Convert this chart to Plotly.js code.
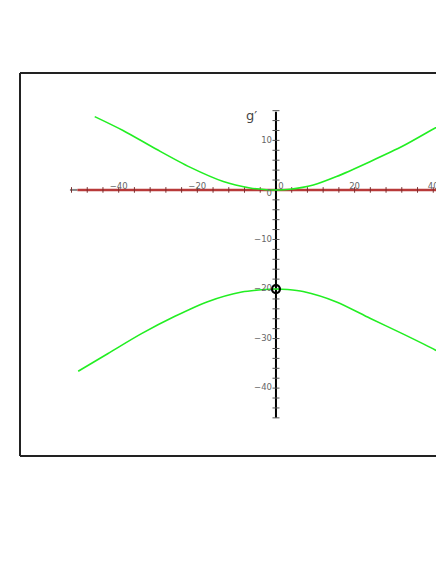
<!DOCTYPE html>
<html><head><meta charset="utf-8">
<script src="https://cdn.plot.ly/plotly-3.0.1.min.js"></script>
<style>html,body{margin:0;padding:0;background:#fff;}#chart{width:436px;height:564px;}</style>
</head><body><div id="chart"></div>
<script>
// Upper branch of g'
const upperX = [-46.1, -38.9, -30.4, -21.9, -13.4, -6.6, -2.5, 0, 3.6, 9.5, 15.4, 23.9, 32.4, 40.5, 42];
const upperY = [14.8, 12.0, 8.2, 4.6, 1.7, 0.4, 0.05, 0.0, 0.15, 1.0, 2.7, 5.7, 8.9, 12.5, 13.1];
// Lower branch of g'
const lowerX = [-50.3, -42.7, -34.2, -25.7, -17.2, -8.7, -3.0, 0, 3.0, 6.9, 15.4, 23.9, 32.4, 40.5, 42];
const lowerY = [-36.6, -33.0, -29.0, -25.5, -22.5, -20.6, -20.1, -20.0, -20.1, -20.5, -22.6, -25.9, -29.1, -32.3, -33.0];
// Marked point
const pointX = [0];
const pointY = [-20];
// Axis extents
const xAxisGrey = [-52.4, -50.5];
const xAxisRed = [-50.5, 42];
const yAxisExt = [15.8, -46];
// Ticks
const xTickVals = [-52,-48,-44,-40,-36,-32,-28,-24,-20,-16,-12,-8,-4,0,4,8,12,16,20,24,28,32,36,40];
const xLabelVals = [-40, -20, 0, 20, 40];
const xLabelText = ["\u221240", "\u221220", "0", "20", "40"];
const yTickVals = [];
for (let v = 16; v >= -46; v -= 2) yTickVals.push(v);
const yLabelVals = [10, 0, -10, -20, -30, -40];
const yLabelText = ["10", "0", "\u221210", "\u221220", "\u221230", "\u221240"];
const axisTitle = "g\u2032";

const green = '#22ee22';
const traces = [
  {x: xAxisGrey, y: [0,0], mode:'lines', line:{color:'#888', width:2}, hoverinfo:'skip'},
  {x: xAxisRed, y: [0,0], mode:'lines', line:{color:'#b83a3a', width:2.5}, hoverinfo:'skip'},
  {x: xTickVals, y: xTickVals.map(()=>0), mode:'markers', marker:{symbol:'line-ns', size:4, line:{color:'#7a3030', width:1}}, hoverinfo:'skip'},
  {x: [0,0], y: yAxisExt, mode:'lines', line:{color:'#000', width:2}, hoverinfo:'skip'},
  {x: yTickVals.map(()=>0), y: yTickVals, mode:'markers', marker:{symbol:'line-ew', size:5, line:{color:'#555', width:1}}, hoverinfo:'skip'},
  {x: upperX, y: upperY, mode:'lines', line:{color:green, width:1.6, shape:'spline', smoothing:0.8}, hoverinfo:'skip'},
  {x: lowerX, y: lowerY, mode:'lines', line:{color:green, width:1.6, shape:'spline', smoothing:0.8}, hoverinfo:'skip'},
  {x: pointX, y: pointY, mode:'markers', marker:{symbol:'circle-open', size:8, line:{color:'#000', width:2.2}, color:'#000'}, hoverinfo:'skip'},
  {x: xLabelVals.map(v => v===0 ? 0.6 : v), y: xLabelVals.map(()=>-0.2), mode:'text', text: xLabelText,
   textposition: xLabelVals.map(v => v===0 ? 'top right' : 'top center'),
   textfont:{family:'DejaVu Sans', size:8.5, color:'#666'}, hoverinfo:'skip'},
  {x: yLabelVals.map(()=>-1.0), y: yLabelVals.map(v => v===0 ? -0.8 : v), mode:'text', text: yLabelText,
   textposition:'middle left', textfont:{family:'DejaVu Sans', size:8.5, color:'#666'}, hoverinfo:'skip'},
  {x: [-6.2], y: [14.7], mode:'text', text:[axisTitle], textposition:'middle center',
   textfont:{family:'DejaVu Sans', size:13, color:'#444'}, hoverinfo:'skip'}
];

const layout = {
  width: 436, height: 564,
  margin: {l: 20, r: 0, t: 73, b: 108},
  paper_bgcolor: '#fff', plot_bgcolor: '#fff',
  showlegend: false,
  xaxis: {range: [-65.1, 40.7], visible: false, fixedrange: true},
  yaxis: {range: [-53.7, 23.6], visible: false, fixedrange: true},
  shapes: [
    {type:'line', xref:'paper', yref:'paper', x0:0, x1:0, y0:0, y1:1, line:{color:'#222', width:2}},
    {type:'line', xref:'paper', yref:'paper', x0:0, x1:1.01, y0:1, y1:1, line:{color:'#222', width:2}},
    {type:'line', xref:'paper', yref:'paper', x0:0, x1:1.01, y0:0, y1:0, line:{color:'#222', width:2}}
  ]
};
Plotly.newPlot('chart', traces, layout, {displayModeBar:false, staticPlot:true});
</script>
</body></html>
